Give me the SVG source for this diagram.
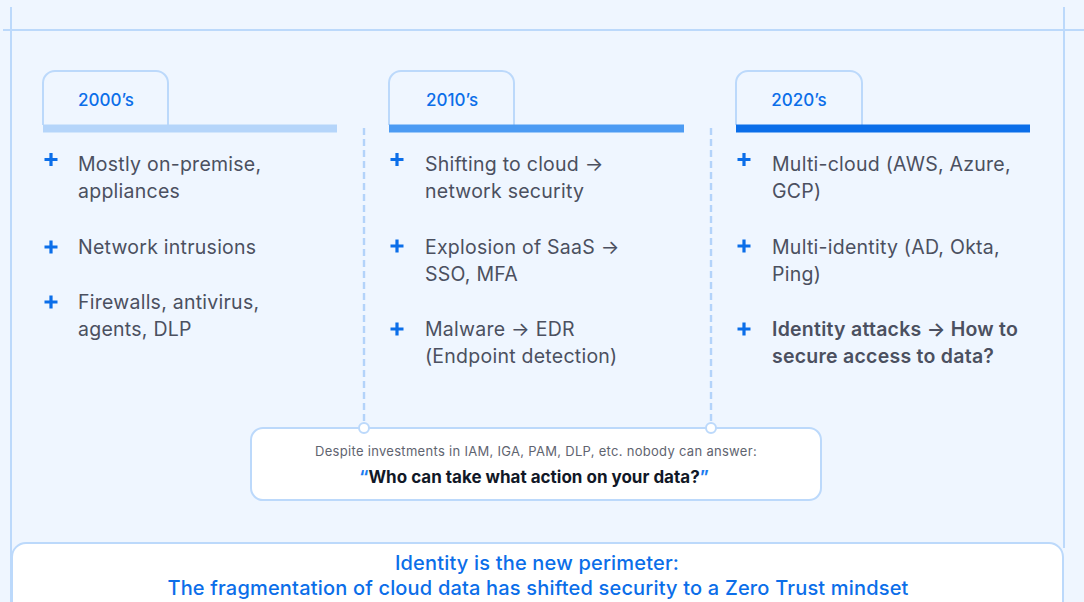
<svg xmlns="http://www.w3.org/2000/svg" width="1084" height="602" viewBox="0 0 1084 602">
  <style>
    .frame { stroke: #BCD9FB; stroke-width: 2; fill: none; }
    .tab { fill: #EFF6FF; stroke: #BCD9FB; stroke-width: 2; }
    .tab-label { font-family: Inter, "Liberation Sans", sans-serif; font-size: 17px; font-weight: 500; fill: #0B6EE9; text-anchor: middle; }
    .item { font-family: Inter, "Liberation Sans", sans-serif; font-size: 19.5px; letter-spacing: 0.25px; fill: #4B5060; }
    .item-strong { font-weight: 600; }
    .plus { fill: #0B6EE9; }
    .card { fill: #FFFFFF; stroke: #BCD9FB; stroke-width: 2; }
    .dash { stroke: #B3D3FA; stroke-width: 2.4; stroke-dasharray: 7 4; fill: none; }
    .dot { fill: #FFFFFF; stroke: #BCD9FB; stroke-width: 2; }
    .note { font-family: Inter, "Liberation Sans", sans-serif; font-size: 13px; letter-spacing: 0.3px; fill: #5F6470; text-anchor: middle; }
    .question { font-family: Inter, "Liberation Sans", sans-serif; font-size: 17px; font-weight: 700; fill: #111827; text-anchor: middle; }
    .quote { fill: #1A7CF0; }
    .banner { font-family: Inter, "Liberation Sans", sans-serif; font-size: 20px; letter-spacing: 0.18px; font-weight: 500; fill: #0B6EE9; text-anchor: middle; }
  </style>
  <defs>
    <path id="plus" d="M-1.6,-6.5 h3.2 v4.9 h4.9 v3.2 h-4.9 v4.9 h-3.2 v-4.9 h-4.9 v-3.2 h4.9 z"/>
  </defs>

  <rect width="1084" height="602" fill="#EFF6FF"/>

  <!-- outer frame lines -->
  <g id="frame">
    <line class="frame" x1="3" y1="30" x2="1084" y2="30"/>
    <line class="frame" x1="11" y1="7" x2="11" y2="602"/>
    <line class="frame" x1="1064" y1="7" x2="1064" y2="548"/>
  </g>

  <!-- connectors from the 2010's / 2020's dividers down to the question card -->
  <g id="connectors">
    <line class="dash" x1="364" y1="128" x2="364" y2="423"/>
    <line class="dash" x1="711" y1="128" x2="711" y2="423"/>
  </g>

  <!-- 2000's column -->
  <g id="col-2000s">
    <path class="tab" d="M43,125 V83 a12,12 0 0 1 12,-12 H156 a12,12 0 0 1 12,12 V125"/>
    <rect x="43" y="124.5" width="294" height="8" fill="#B5D5FA"/>
    <text class="tab-label" x="106" y="106">2000’s</text>
    <use href="#plus" class="plus" x="51" y="159.5"/>
    <text class="item" x="78" y="171">Mostly on-premise,</text>
    <text class="item" x="78" y="198">appliances</text>
    <use href="#plus" class="plus" x="51" y="247"/>
    <text class="item" x="78" y="254">Network intrusions</text>
    <use href="#plus" class="plus" x="51" y="302"/>
    <text class="item" x="78" y="309">Firewalls, antivirus,</text>
    <text class="item" x="78" y="336">agents, DLP</text>
  </g>

  <!-- 2010's column -->
  <g id="col-2010s">
    <path class="tab" d="M389,125 V83 a12,12 0 0 1 12,-12 H502 a12,12 0 0 1 12,12 V125"/>
    <rect x="389" y="124.5" width="295" height="8" fill="#4C9BF3"/>
    <text class="tab-label" x="452" y="106">2010’s</text>
    <use href="#plus" class="plus" x="397" y="159.5"/>
    <text class="item" x="425" y="171">Shifting to cloud →</text>
    <text class="item" x="425" y="198">network security</text>
    <use href="#plus" class="plus" x="397" y="246"/>
    <text class="item" x="425" y="254">Explosion of SaaS →</text>
    <text class="item" x="425" y="281">SSO, MFA</text>
    <use href="#plus" class="plus" x="397" y="329"/>
    <text class="item" x="425" y="336">Malware → EDR</text>
    <text class="item" x="425" y="363">(Endpoint detection)</text>
  </g>

  <!-- 2020's column -->
  <g id="col-2020s">
    <path class="tab" d="M736,125 V83 a12,12 0 0 1 12,-12 H850 a12,12 0 0 1 12,12 V125"/>
    <rect x="736" y="124.5" width="294" height="8" fill="#0B6EE9"/>
    <text class="tab-label" x="799" y="106">2020’s</text>
    <use href="#plus" class="plus" x="744" y="159.5"/>
    <text class="item" x="772" y="171">Multi-cloud (AWS, Azure,</text>
    <text class="item" x="772" y="198">GCP)</text>
    <use href="#plus" class="plus" x="744" y="246"/>
    <text class="item" x="772" y="254">Multi-identity (AD, Okta,</text>
    <text class="item" x="772" y="281">Ping)</text>
    <use href="#plus" class="plus" x="744" y="329"/>
    <text class="item item-strong" x="772" y="336">Identity attacks → How to</text>
    <text class="item item-strong" x="772" y="363">secure access to data?</text>
  </g>

  <!-- question card -->
  <g id="question-card">
    <rect class="card" x="251" y="428" width="570" height="72" rx="12"/>
    <circle class="dot" cx="364" cy="428" r="5"/>
    <circle class="dot" cx="711" cy="428" r="5"/>
    <text class="note" x="536" y="456">Despite investments in IAM, IGA, PAM, DLP, etc. nobody can answer:</text>
    <text class="question" x="534" y="483"><tspan class="quote">“</tspan>Who can take what action on your data?<tspan class="quote">”</tspan></text>
  </g>

  <!-- bottom banner -->
  <g id="banner">
    <rect class="card" x="12" y="543" width="1051" height="80" rx="14"/>
    <text class="banner" x="537" y="570">Identity is the new perimeter:</text>
    <text class="banner" x="538" y="595">The fragmentation of cloud data has shifted security to a Zero Trust mindset</text>
  </g>
</svg>
